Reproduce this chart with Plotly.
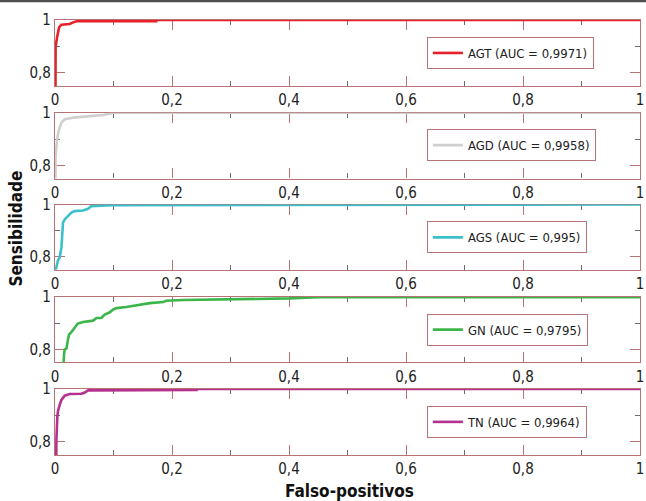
import plotly.graph_objects as go

# ---- data ----
x_tick_vals = [0, 0.2, 0.4, 0.6, 0.8, 1]
x_tick_text = ["0", "0,2", "0,4", "0,6", "0,8", "1"]
y_tick_vals = [0.8, 1]
y_tick_text = ["0,8", "1"]

series_names = ["AGT (AUC = 0,9971)", "AGD (AUC = 0,9958)", "AGS (AUC = 0,995)",
                "GN (AUC = 0,9795)", "TN (AUC = 0,9964)"]
series_colors = ["#e8202a", "#cfcfcf", "#3bbfcc", "#3cb54a", "#b5308f"]

agt_fpr = [0, 0, 0.001, 0.0035, 0.007, 0.011, 0.025, 0.031, 0.037, 0.173, 0.173, 1]
agt_tpr = [0, 0.859, 0.897, 0.934, 0.972, 0.982, 0.985, 0.991, 0.995, 0.995, 1, 1]

agd_fpr = [0, 0.001, 0.0035, 0.007, 0.011, 0.0166, 0.031, 0.059, 0.082, 0.096, 0.1, 1]
agd_tpr = [0, 0.836, 0.899, 0.937, 0.962, 0.975, 0.981, 0.9875, 0.991, 0.998, 1, 1]

ags_fpr = [0, 0.0012, 0.0051, 0.008, 0.011, 0.0126, 0.0137, 0.0166, 0.0222, 0.028,
           0.0337, 0.048, 0.0565, 0.062, 0.096, 0.2, 0.2, 1]
ags_tpr = [0, 0.75, 0.786, 0.798, 0.836, 0.899, 0.931, 0.943, 0.956, 0.969,
           0.975, 0.977, 0.984, 0.994, 0.998, 0.998, 1, 1]

gn_fpr = [0, 0.0137, 0.0154, 0.0166, 0.0195, 0.0222, 0.024, 0.028, 0.0337, 0.039,
          0.048, 0.0565, 0.065, 0.071, 0.079, 0.085, 0.0936, 0.099, 0.105, 0.122,
          0.136, 0.150, 0.162, 0.185, 0.190, 0.219, 0.333, 0.40, 0.45, 1]
gn_tpr = [0, 0.75, 0.781, 0.80, 0.803, 0.838, 0.857, 0.866, 0.885, 0.899,
          0.905, 0.908, 0.910, 0.920, 0.920, 0.933, 0.942, 0.952, 0.958, 0.962,
          0.967, 0.971, 0.977, 0.981, 0.986, 0.989, 0.991, 0.995, 1, 1]

tn_fpr = [0, 0.0012, 0.0024, 0.004, 0.005, 0.008, 0.011, 0.0166, 0.025, 0.045,
          0.051, 0.0565, 0.19, 0.19, 0.242, 0.242, 1]
tn_tpr = [0, 0.751, 0.808, 0.896, 0.915, 0.94, 0.959, 0.975, 0.981, 0.982,
          0.987, 0.995, 0.995, 0.997, 0.997, 1, 1]

series_fpr = [agt_fpr, agd_fpr, ags_fpr, gn_fpr, tn_fpr]
series_tpr = [agt_tpr, agd_tpr, ags_tpr, gn_tpr, tn_tpr]

# ---- layout constants ----
W, H = 646, 501
ML, MR, MT, MB = 55.3, 6, 20, 45.7
plot_w = W - ML - MR
plot_h = H - MT - MB
panel_px = [(20, 86), (112.7, 178.7), (204.7, 270), (297.3, 362.7), (389.3, 455.3)]
legend_tops_px = [37, 129.3, 221.6, 313.9, 406.2]

def ypaper(py):
    return (H - MB - py) / plot_h

def xpaper(px):
    return (px - ML) / plot_w

FRAME = "#b87474"
MINOR = "#6b6b78"
FONT = "DejaVu Sans Condensed, Liberation Sans Narrow, Roboto, sans-serif"

fig = go.Figure()
layout = dict(
    template="none",
    width=W, height=H,
    margin=dict(l=ML, r=MR, t=MT, b=MB, pad=0, autoexpand=False),
    paper_bgcolor="white", plot_bgcolor="white",
    font=dict(family=FONT, size=15, color="#222222"),
    showlegend=True,
)

for i in range(5):
    sfx = "" if i == 0 else str(i + 1)
    leg = "legend" + sfx
    fig.add_trace(go.Scatter(
        x=series_fpr[i], y=series_tpr[i], mode="lines",
        name=series_names[i],
        line=dict(color=series_colors[i], width=2.6),
        xaxis="x" + sfx, yaxis="y" + sfx, legend=leg,
        hoverinfo="skip",
    ))
    top, bot = panel_px[i]
    layout["xaxis" + sfx] = dict(
        domain=[0, 1], anchor="y" + sfx, range=[0, 1], automargin=False,
        tickvals=x_tick_vals, ticktext=x_tick_text,
        ticks="inside", ticklen=10, tickwidth=1, tickcolor=FRAME,
        minor=dict(dtick=0.1, tick0=0, ticks="inside", ticklen=5, tickcolor=MINOR, tickwidth=1),
        showline=True, linecolor=FRAME, linewidth=1.2, mirror="ticks",
        showgrid=False, zeroline=False, layer="below traces",
        tickfont=dict(size=15, color="#222222"),
    )
    layout["yaxis" + sfx] = dict(
        domain=[ypaper(bot), ypaper(top)], anchor="x" + sfx, range=[0.75, 1],
        automargin=False,
        tickvals=y_tick_vals, ticktext=y_tick_text,
        ticks="inside", ticklen=10, tickwidth=1, tickcolor=FRAME,
        minor=dict(tickvals=[0.9], ticks="inside", ticklen=5, tickcolor=MINOR, tickwidth=1),
        showline=True, linecolor=FRAME, linewidth=1.2, mirror="ticks",
        showgrid=False, zeroline=False, layer="below traces",
        tickfont=dict(size=15, color="#222222"),
    )
    layout[leg] = dict(
        x=xpaper(427), y=ypaper(legend_tops_px[i]),
        xanchor="left", yanchor="top",
        bgcolor="white", bordercolor=FRAME, borderwidth=1,
        font=dict(family=FONT, size=13, color="#222222"),
        itemwidth=30, tracegroupgap=0,
    )

fig.update_layout(**layout)

fig.add_annotation(
    text="<b>Sensibilidade</b>", xref="paper", yref="paper",
    x=xpaper(16), y=ypaper(229), textangle=-90,
    showarrow=False, font=dict(family=FONT, size=17, color="#111111"),
    xanchor="center", yanchor="middle",
)
fig.add_annotation(
    text="<b>Falso-positivos</b>", xref="paper", yref="paper",
    x=xpaper(350), y=ypaper(491),
    showarrow=False, font=dict(family=FONT, size=17, color="#111111"),
    xanchor="center", yanchor="middle",
)
# top dark rule
fig.add_shape(
    type="rect", xref="paper", yref="paper",
    x0=xpaper(0), x1=xpaper(W),
    y0=ypaper(2.2), y1=ypaper(0),
    fillcolor="#505050", line=dict(width=0), layer="above",
)

fig.write_html("out.html", config={"displayModeBar": False},
               post_script="document.body.style.margin='0';")
